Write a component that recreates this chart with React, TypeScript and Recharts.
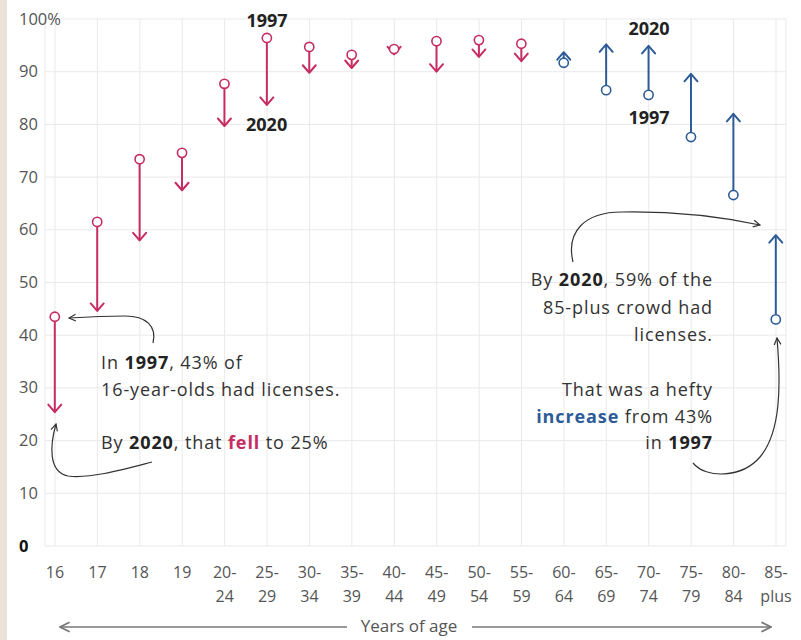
import React from "react"
import { Bar, CartesianGrid, ComposedChart, XAxis, YAxis } from "recharts"

const categories = [
  "16", "17", "18", "19", "20-24", "25-29", "30-34", "35-39", "40-44",
  "45-49", "50-54", "55-59", "60-64", "65-69", "70-74", "75-79", "80-84", "85-plus",
]
const share1997 = [43.5, 61.5, 73.4, 74.6, 87.7, 96.4, 94.7, 93.2, 94.3, 95.8, 96.0, 95.3, 91.7, 86.5, 85.6, 77.6, 66.6, 43.0]
const share2020 = [25.4, 44.6, 58.0, 67.5, 79.7, 83.7, 89.8, 90.7, 93.3, 90.0, 92.8, 92.0, 93.7, 95.2, 94.9, 89.6, 82.0, 59.0]
const yTicks = [0, 10, 20, 30, 40, 50, 60, 70, 80, 90, 100]

const RED = "#c62b61"
const BLUE = "#2d5b97"
const FONT = "'Open Sans', Roboto, sans-serif"

const data = categories.map((c, i) => ({ idx: i, label: c, v1997: share1997[i], v2020: share2020[i] }))

function ArrowShape(props: any) {
  const { x, y, width, height, payload } = props
  if (x == null || y == null) return null
  const cx = x + width / 2
  const top = Math.min(y, y + height)
  const bot = Math.max(y, y + height)
  const down = payload.v2020 < payload.v1997
  const color = down ? RED : BLUE
  const start = down ? top : bot
  const tip = down ? bot : top
  const dir = down ? 1 : -1
  const r = 4.6
  const lineStart = start + dir * r
  return (
    <g>
      {(tip - lineStart) * dir > 0 && (
        <line x1={cx} y1={lineStart} x2={cx} y2={tip} stroke={color} strokeWidth={2} />
      )}
      <polyline
        points={`${cx - 6.5},${tip - dir * 7.5} ${cx},${tip} ${cx + 6.5},${tip - dir * 7.5}`}
        fill="none"
        stroke={color}
        strokeWidth={2}
        strokeLinecap="round"
        strokeLinejoin="round"
      />
      <circle cx={cx} cy={start} r={r} fill="#fff" stroke={color} strokeWidth={1.6} />
    </g>
  )
}

function XTick(props: any) {
  const { x, y, payload } = props
  const label = categories[payload.value] ?? ""
  const dash = label.indexOf("-")
  const lines = dash >= 0 ? [label.slice(0, dash + 1), label.slice(dash + 1)] : [label]
  return (
    <g>
      {lines.map((l, i) => (
        <text key={i} x={x} y={y + 32 + i * 24} textAnchor="middle" fontSize={16} fill="#555" fontFamily={FONT}>
          {l}
        </text>
      ))}
    </g>
  )
}

function YTick(props: any) {
  const { y, payload } = props
  const v = payload.value
  return (
    <text
      x={19}
      y={y + 5.5}
      textAnchor="start"
      fontSize={16.5}
      fill={v === 0 ? "#111" : "#555"}
      fontWeight={v === 0 ? 700 : 400}
      fontFamily={FONT}
    >
      {v === 100 ? "100%" : v}
    </text>
  )
}

function Overlay() {
  const t = { fontFamily: FONT, fontSize: 18, fill: "#333", letterSpacing: 0.9 }
  const b = { fontFamily: FONT, fontSize: 18, fontWeight: 700, fill: "#222" }
  return (
    <svg width={801} height={640} style={{ position: "absolute", left: 0, top: 0, pointerEvents: "none" }}>
      <defs>
        <marker id="chev" viewBox="0 0 10 10" refX="9" refY="5" markerWidth="7" markerHeight="7" orient="auto-start-reverse">
          <path d="M1,1 L9,5 L1,9" fill="none" stroke="#333" strokeWidth={1.4} />
        </marker>
        <marker id="chevGrey" viewBox="0 0 10 10" refX="9" refY="5" markerWidth="8" markerHeight="8" orient="auto-start-reverse">
          <path d="M1,1 L9,5 L1,9" fill="none" stroke="#777" strokeWidth={1.4} />
        </marker>
      </defs>

      {/* year labels */}
      <text x={267} y={27} textAnchor="middle" {...b}>1997</text>
      <text x={246} y={131} textAnchor="start" {...b}>2020</text>
      <text x={649} y={35} textAnchor="middle" {...b}>2020</text>
      <text x={649} y={124} textAnchor="middle" {...b}>1997</text>

      {/* left notes */}
      <text x={101} y={369} {...t}>
        In <tspan fontWeight={700} fill="#222">1997</tspan>, 43% of
      </text>
      <text x={101} y={396} {...t}>16-year-olds had licenses.</text>
      <text x={101} y={449} {...t}>
        By <tspan fontWeight={700} fill="#222">2020</tspan>, that <tspan fontWeight={700} fill={RED}>fell</tspan> to 25%
      </text>

      {/* right notes */}
      <text x={713} y={286} textAnchor="end" {...t}>
        By <tspan fontWeight={700} fill="#222">2020</tspan>, 59% of the
      </text>
      <text x={713} y={314} textAnchor="end" {...t}>85-plus crowd had</text>
      <text x={713} y={341} textAnchor="end" {...t}>licenses.</text>
      <text x={713} y={396} textAnchor="end" {...t}>That was a hefty</text>
      <text x={713} y={423} textAnchor="end" {...t}>
        <tspan fontWeight={700} fill={BLUE}>increase</tspan> from 43%
      </text>
      <text x={713} y={449} textAnchor="end" {...t}>
        in <tspan fontWeight={700} fill="#222">1997</tspan>
      </text>

      {/* pointer curves */}
      <g fill="none" stroke="#333" strokeWidth={1.2}>
        <path d="M153,343 C157,326 146,316 125,316 C105,316 85,317 69,318" markerEnd="url(#chev)" />
        <path d="M152,462 C125,469 90,479 68,476 C48,472 50,445 56,424" markerEnd="url(#chev)" />
        <path d="M573,262 C566,232 584,212 622,212 C680,211 722,217 760,225" markerEnd="url(#chev)" />
        <path d="M693,463 C706,479 742,478 760,457 C781,432 781,385 777,338" markerEnd="url(#chev)" />
      </g>

      {/* axis title */}
      <text x={409} y={632} textAnchor="middle" fontFamily={FONT} fontSize={17} fill="#555">Years of age</text>
      <line x1={347} y1={627} x2={60} y2={627} stroke="#777" strokeWidth={1.5} markerEnd="url(#chevGrey)" />
      <line x1={472} y1={627} x2={771} y2={627} stroke="#777" strokeWidth={1.5} markerEnd="url(#chevGrey)" />
    </svg>
  )
}

export default function App() {
  return (
    <div style={{ position: "absolute", left: 0, top: 0, width: 801, height: 640, background: "#fff" }}>
      <div style={{ position: "absolute", left: 0, top: 0, width: 7, height: 640, background: "#ebe3d7" }} />
      <ComposedChart width={801} height={640} data={data} margin={{ top: 19, right: 15, bottom: 0, left: 0 }}>
        <CartesianGrid stroke="#e9e9e9" strokeWidth={1} />
        <XAxis
          dataKey="idx"
          type="number"
          domain={[0, 17]}
          ticks={categories.map((_, i) => i)}
          padding={{ left: 10, right: 10 }}
          height={94}
          axisLine={false}
          tickLine={false}
          tickSize={0}
          tickMargin={0}
          tick={<XTick />}
          interval={0}
        />
        <YAxis
          type="number"
          domain={[0, 100]}
          ticks={yTicks}
          width={45}
          axisLine={false}
          tickLine={false}
          tick={<YTick />}
          interval={0}
        />
        <Bar dataKey={(d: any) => [d.v1997, d.v2020]} barSize={12} shape={<ArrowShape />} isAnimationActive={false} />
      </ComposedChart>
      <Overlay />
    </div>
  )
}
